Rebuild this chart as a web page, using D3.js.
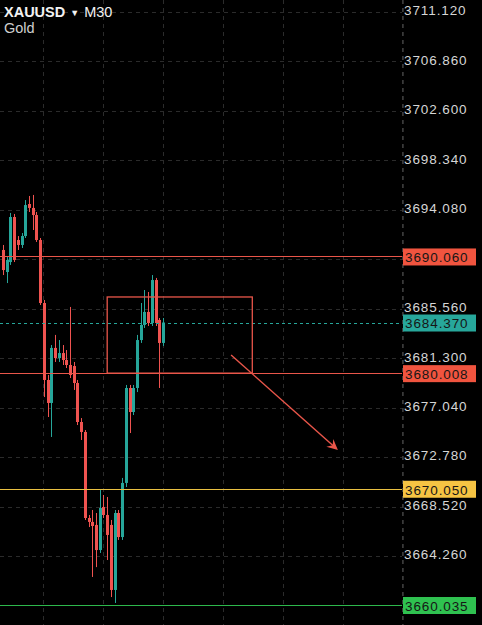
<!DOCTYPE html>
<html><head><meta charset="utf-8">
<script src="https://cdn.jsdelivr.net/npm/d3@7"></script>
<style>html,body{margin:0;padding:0;background:#000;overflow:hidden}</style>
</head><body><svg id="c" width="482" height="625"></svg>
<script>
// ---- data ----
const candleOpen  = [3690.62,3688.72,3689.58,3693.46,3691.48,3691.05,3691.82,3694.58,3694.24,3693.63,3691.48,3686.05,3679.42,3677.44,3682.18,3681.31,3681.74,3681.14,3680.71,3680.62,3679.16,3675.80,3674.94,3667.53,3667.19,3666.93,3664.77,3668.48,3667.79,3666.93,3661.33,3667.96,3665.89,3670.55,3678.73,3676.66,3678.73,3682.86,3684.16,3685.28,3684.33,3688.03,3684.59,3682.61];
const candleHigh  = [3691.05,3690.01,3693.81,3693.72,3691.82,3692.08,3694.92,3695.27,3695.36,3693.89,3691.65,3686.31,3679.85,3682.43,3683.30,3682.86,3682.43,3682.00,3685.71,3680.97,3679.42,3676.14,3675.11,3667.79,3668.22,3667.96,3669.94,3669.51,3669.34,3667.36,3668.22,3668.22,3670.98,3678.99,3678.99,3678.99,3683.30,3686.05,3687.17,3687.00,3688.46,3688.21,3684.76,3684.76];
const candleLow   = [3688.46,3687.77,3689.33,3689.58,3690.62,3690.79,3691.65,3693.89,3692.34,3691.31,3685.88,3677.95,3676.23,3674.51,3680.97,3680.97,3680.71,3680.45,3679.59,3678.56,3675.54,3674.25,3667.36,3666.75,3662.45,3663.30,3664.52,3667.53,3663.91,3660.72,3660.21,3665.64,3665.64,3670.20,3674.85,3676.40,3678.38,3682.61,3683.90,3684.07,3684.07,3684.07,3678.73,3682.35];
const candleClose = [3688.89,3689.76,3693.46,3689.76,3691.05,3691.82,3694.49,3694.24,3693.63,3691.48,3686.05,3679.42,3677.44,3682.18,3681.31,3681.74,3681.14,3680.71,3679.85,3679.16,3675.80,3674.94,3667.53,3667.19,3666.84,3664.77,3668.39,3667.79,3666.07,3661.33,3667.96,3665.89,3670.55,3678.73,3676.66,3678.73,3682.86,3684.16,3685.28,3684.33,3688.03,3684.33,3682.61,3684.37];

const priceTicks = [3711.12,3706.86,3702.60,3698.34,3694.08,3689.82,3685.56,3681.30,3677.04,3672.78,3668.52,3664.26,3660.00];
const timeGrid = [10.75,26.9,43.0,59.1,75.2,91.3,107.4];

const levelPrices = [3690.060, 3680.008, 3670.050, 3660.035];
const levelNames  = ["red","red","yellow","green"];
const currentPrice = 3684.370;

// zone box (candle index, price)
const zoneX = [28, 67];
const zonePrice = [3686.57, 3680.008];
// arrow (candle index, price)
const arrowX = [61.3, 90.0];
const arrowPrice = [3681.57, 3673.39];

const symbol = "XAUUSD", timeframe = "M30", subtitle = "Gold";

// ---- styles ----
const COL = {bg:"#000", up:"#26a69a", down:"#ef5350", grid:"#2b2b2b", text:"#d6d6d6", teal:"#26a69a"};
const lvlLine = {red:"#e9564a", yellow:"#e9c042", green:"#2db84c"};
const lvlBox  = {red:"#f0543f", yellow:"#f6c443", green:"#2fc150"};

const W = 482, H = 625, plotRight = 402;
const svg = d3.select("#c");
svg.append("rect").attr("width",W).attr("height",H).attr("fill",COL.bg);

const y = d3.scaleLinear().domain([3660.035, 3711.12]).range([605, 12]);
const x = d3.scaleLinear().domain([0, 43]).range([3, 163]);

// grid
const g = svg.append("g");
g.selectAll("line.h").data(priceTicks).join("line")
  .attr("x1",0).attr("x2",plotRight).attr("y1",d=>Math.round(y(d))+0.5).attr("y2",d=>Math.round(y(d))+0.5)
  .attr("stroke",COL.grid).attr("stroke-dasharray","4,4");
g.selectAll("line.v").data(timeGrid).join("line")
  .attr("x1",d=>Math.round(x(d))+0.5).attr("x2",d=>Math.round(x(d))+0.5).attr("y1",0).attr("y2",H)
  .attr("stroke",COL.grid).attr("stroke-dasharray","4,4");

// candles
const idx = d3.range(candleOpen.length);
const cg = svg.append("g");
const colorOf = i => candleClose[i] >= candleOpen[i] ? COL.up : COL.down;
cg.selectAll("line.w").data(idx).join("line")
  .attr("x1",i=>Math.round(x(i))+0.5).attr("x2",i=>Math.round(x(i))+0.5)
  .attr("y1",i=>y(candleHigh[i])).attr("y2",i=>y(candleLow[i]))
  .attr("stroke",colorOf).attr("stroke-width",1);
cg.selectAll("rect.b").data(idx).join("rect")
  .attr("x",i=>Math.round(x(i))-1).attr("width",3)
  .attr("y",i=>y(Math.max(candleOpen[i],candleClose[i])))
  .attr("height",i=>Math.max(1,Math.abs(y(candleOpen[i])-y(candleClose[i]))))
  .attr("fill",colorOf);

// level lines
svg.selectAll("line.lvl").data(levelPrices).join("line")
  .attr("x1",0).attr("x2",plotRight).attr("y1",d=>Math.round(y(d))+0.5).attr("y2",d=>Math.round(y(d))+0.5)
  .attr("stroke",(d,i)=>lvlLine[levelNames[i]]).attr("stroke-width",1.2);

// current price dashed
svg.append("line").attr("x1",0).attr("x2",plotRight)
  .attr("y1",Math.round(y(currentPrice))+0.5).attr("y2",Math.round(y(currentPrice))+0.5)
  .attr("stroke",COL.teal).attr("stroke-dasharray","3,3").attr("stroke-width",1.2);

// zone
svg.append("rect")
  .attr("x",x(zoneX[0])).attr("width",x(zoneX[1])-x(zoneX[0]))
  .attr("y",y(zonePrice[0])).attr("height",y(zonePrice[1])-y(zonePrice[0]))
  .attr("fill","none").attr("stroke",lvlLine.red).attr("stroke-width",1.3);

// arrow
const ax1=x(arrowX[0]), ay1=y(arrowPrice[0]), ax2=x(arrowX[1]), ay2=y(arrowPrice[1]);
const ang = Math.atan2(ay2-ay1, ax2-ax1);
svg.append("line").attr("x1",ax1).attr("y1",ay1).attr("x2",ax2-4*Math.cos(ang)).attr("y2",ay2-4*Math.sin(ang))
  .attr("stroke",lvlLine.red).attr("stroke-width",1.4);
const hl=12, hw=0.45;
svg.append("path").attr("d",
  `M${ax2},${ay2} L${ax2-hl*Math.cos(ang-hw)},${ay2-hl*Math.sin(ang-hw)} L${ax2-7*Math.cos(ang)},${ay2-7*Math.sin(ang)} L${ax2-hl*Math.cos(ang+hw)},${ay2-hl*Math.sin(ang+hw)} Z`)
  .attr("fill",lvlLine.red);

// axis separator
svg.append("line").attr("x1",plotRight+0.5).attr("x2",plotRight+0.5).attr("y1",0).attr("y2",H)
  .attr("stroke","#3a3a3a").attr("stroke-dasharray","4,4");

// tick labels (those under a level box are hidden, as on the reference)
const fmt = d3.format(".3f");
const font = "'Liberation Sans', Arial, sans-serif";
const boxPrices = levelPrices.concat([currentPrice]);
const visibleTicks = priceTicks.filter(t => d3.min(boxPrices, p => Math.abs(y(p) - y(t))) > 8);
svg.selectAll("text.t").data(visibleTicks).join("text")
  .attr("x",404).attr("y",d=>y(d)-1.5).attr("dy","0.36em")
  .attr("fill",COL.text).attr("font-family",font).attr("font-size",13.5).attr("letter-spacing",0.9)
  .text(d=>fmt(d));

// level boxes
const boxes = levelPrices.map((p,i)=>({p, fill:lvlBox[levelNames[i]]})).concat([{p:currentPrice, fill:"#27a79b"}]);
const bg = svg.selectAll("g.box").data(boxes).join("g");
bg.append("rect").attr("x",403).attr("width",73).attr("y",d=>y(d.p)-8).attr("height",17).attr("fill",d=>d.fill);
bg.append("text").attr("x",405).attr("y",d=>y(d.p)+1).attr("dy","0.36em")
  .attr("fill","#161616").attr("font-family",font).attr("font-size",13.5).attr("letter-spacing",0.9)
  .text(d=>fmt(d.p));

// title
const t = svg.append("text").attr("x",4).attr("y",17).attr("font-family",font).attr("font-size",14.5).attr("fill","#f2f2f2");
t.append("tspan").attr("font-weight","bold").text(symbol);
t.append("tspan").attr("font-size",9).attr("dx",5).attr("dy",-1).text("▼");
t.append("tspan").attr("dx",5).attr("dy",1).text(timeframe);
svg.append("text").attr("x",4).attr("y",33).attr("font-family",font).attr("font-size",14.5).attr("fill","#cfcfcf").text(subtitle);
</script></body></html>
